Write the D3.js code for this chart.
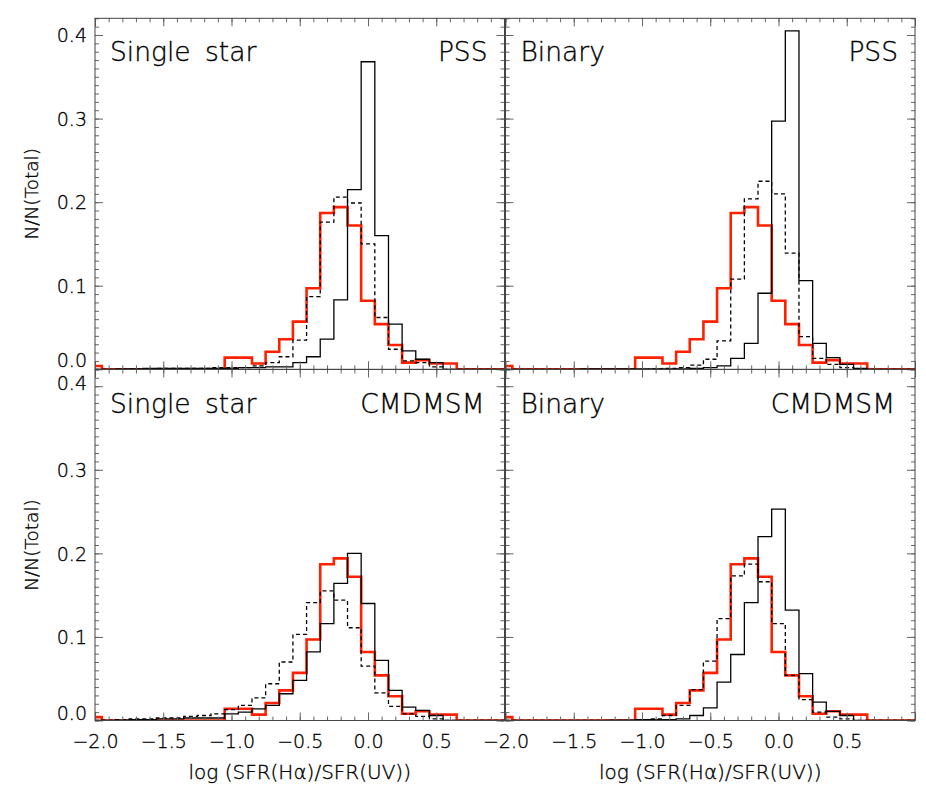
<!DOCTYPE html>
<html>
<head>
<meta charset="utf-8">
<script src="https://cdn.jsdelivr.net/npm/d3@7"></script>
<style>
  html, body { margin: 0; padding: 0; background: #fff; }
  svg { display: block; }
  text { font-family: "DejaVu Sans", "Noto Sans", sans-serif; font-weight: 200; fill: #000; stroke: #000; stroke-width: 0.35px; }
</style>
</head>
<body>
<svg id="chart" width="926" height="797"></svg>
<script>
// ---------- data ----------
const binCenters = [-2.0,-1.9,-1.8,-1.7,-1.6,-1.5,-1.4,-1.3,-1.2,-1.1,
                    -1.0,-0.9,-0.8,-0.7,-0.6,-0.5,-0.4,-0.3,-0.2,-0.1,
                     0.0, 0.1, 0.2, 0.3, 0.4, 0.5, 0.6, 0.7, 0.8, 0.9, 1.0];

// observed distribution (red), same in all panels
const observed = [0.004,0,0,0,0,0,0,0,0,0,
                  0.014,0.014,0.007,0.021,0.036,0.057,0.097,0.187,0.194,0.172,
                  0.082,0.054,0.029,0.008,0.011,0.007,0.007,0,0,0,0];

const singlePSSSolid = [0,0,0.0005,0.0005,0.001,0.001,0.001,0.001,0.001,0.001,
                        0.001,0.002,0.002,0.003,0.003,0.008,0.015,0.036,0.083,0.215,
                        0.368,0.160,0.054,0.022,0.012,0.008,0,0,0,0,0];
const singlePSSDashed = [0,0,0,0.0005,0.0005,0.001,0.001,0.001,0.001,0.002,
                         0.002,0.002,0.004,0.008,0.015,0.035,0.087,0.176,0.206,0.199,
                         0.150,0.062,0.024,0.010,0.008,0.003,0,0,0,0,0];
const binaryPSSSolid = [0,0,0,0,0,0,0.0005,0.0005,0.0005,0.0005,
                        0.0005,0.0005,0.0005,0.0005,0.001,0.002,0.004,0.013,0.031,0.091,
                        0.297,0.405,0.106,0.031,0.014,0.006,0.001,0,0,0,0];
const binaryPSSDashed = [0,0,0,0,0,0,0,0,0,0,
                         0,0.0005,0.001,0.002,0.005,0.012,0.034,0.108,0.204,0.225,
                         0.210,0.139,0.039,0.013,0.006,0.002,0,0,0,0,0];
const singleCMDSolid = [0,0,0.0005,0.001,0.001,0.002,0.002,0.003,0.003,0.003,
                        0.008,0.010,0.014,0.018,0.032,0.048,0.082,0.116,0.164,0.200,
                        0.140,0.072,0.036,0.016,0.012,0.006,0,0,0,0,0];
const singleCMDDashed = [0,0.0005,0.001,0.002,0.002,0.003,0.003,0.005,0.006,0.008,
                         0.013,0.018,0.027,0.044,0.070,0.103,0.141,0.155,0.144,0.111,
                         0.065,0.033,0.017,0.008,0.005,0.002,0,0,0,0,0];
const binaryCMDSolid = [0,0,0,0,0,0,0,0,0.0005,0.0005,
                        0.001,0.001,0.001,0.002,0.006,0.015,0.046,0.079,0.141,0.220,
                        0.253,0.132,0.056,0.022,0.011,0.006,0,0,0,0,0];
const binaryCMDDashed = [0,0,0,0,0,0,0,0,0,0,
                         0.001,0.002,0.006,0.018,0.037,0.071,0.122,0.173,0.187,0.166,
                         0.116,0.054,0.025,0.010,0.004,0.002,0,0,0,0,0];

const panelLeftLabels  = ["Single star", "Binary", "Single star", "Binary"];
const panelRightLabels = ["PSS", "PSS", "CMDMSM", "CMDMSM"];
const xMajorTicks = [-2.0,-1.5,-1.0,-0.5,0.0,0.5,1.0];
const xLabelTicks = [-2.0,-1.5,-1.0,-0.5,0.0,0.5];
const yMajorTicks = [0.0,0.1,0.2,0.3,0.4];
const xTitle = "log (SFR(H\u03b1)/SFR(UV))";
const yTitle = "N/N(Total)";

// ---------- layout ----------
const svg = d3.select("#chart");
const colX = [95, 505.5];
const colW = 409.5;
const rowY = [18.3, 369.5];
const rowH = 351;
const xDomain = [-2.0, 1.0];
const yDomain = [0, 0.42];
const frameColor = "#444";
const tickColor = "#666";

const panels = [
  {col:0,row:0, solid:singlePSSSolid, dashed:singlePSSDashed},
  {col:1,row:0, solid:binaryPSSSolid, dashed:binaryPSSDashed},
  {col:0,row:1, solid:singleCMDSolid, dashed:singleCMDDashed},
  {col:1,row:1, solid:binaryCMDSolid, dashed:binaryCMDDashed}
];

const xMinor = d3.range(-20, 11).map(i => i/10);
const yMinor = d3.range(0, 43).map(i => i/100);
const fmt = d3.format(".1f");

panels.forEach((p, idx) => {
  const x0 = colX[p.col], y0 = rowY[p.row];
  const x = d3.scaleLinear().domain(xDomain).range([x0, x0 + colW]);
  const y = d3.scaleLinear().domain(yDomain).range([y0 + rowH, y0]);
  const g = svg.append("g");

  const clipId = "clip" + idx;
  svg.append("clipPath").attr("id", clipId).append("rect")
    .attr("x", x0).attr("y", y0 - 2).attr("width", colW).attr("height", rowH + 2);

  const line = d3.line()
    .x((d, i) => x(binCenters[i]))
    .y(d => y(d))
    .curve(d3.curveStep);

  const lines = g.append("g").attr("clip-path", `url(#${clipId})`);
  lines.append("path").datum(observed).attr("d", line)
    .attr("fill", "none").attr("stroke", "#ff2000").attr("stroke-width", 2.6);
  lines.append("path").datum(p.dashed).attr("d", line)
    .attr("fill", "none").attr("stroke", "#000").attr("stroke-width", 1.3)
    .attr("stroke-dasharray", "4,3");
  lines.append("path").datum(p.solid).attr("d", line)
    .attr("fill", "none").attr("stroke", "#000").attr("stroke-width", 1.3);

  const axes = g.append("g");
  const addAxis = (axisFn, scale, vals, size, transform, labels) => {
    const a = axisFn(scale).tickValues(vals).tickSize(size).tickSizeOuter(0);
    if (labels) a.tickFormat(d => labels.includes(d) ? fmt(d) : "").tickPadding(8);
    else a.tickFormat("");
    const ag = axes.append("g").attr("transform", transform).call(a);
    ag.select(".domain").remove();
    ag.selectAll(".tick line").attr("stroke", tickColor);
    return ag;
  };
  const bottomT = `translate(0,${y0 + rowH})`;
  const topT = `translate(0,${y0})`;
  const leftT = `translate(${x0},0)`;
  const rightT = `translate(${x0 + colW},0)`;
  addAxis(d3.axisBottom, x, xMinor, -4, bottomT);
  addAxis(d3.axisTop, x, xMinor, -4, topT);
  addAxis(d3.axisLeft, y, yMinor, -4, leftT);
  addAxis(d3.axisRight, y, yMinor, -4, rightT);
  const xb = addAxis(d3.axisBottom, x, xMajorTicks, -8, bottomT, p.row === 1 ? xLabelTicks : null);
  addAxis(d3.axisTop, x, xMajorTicks, -8, topT);
  const yl = addAxis(d3.axisLeft, y, yMajorTicks, -8, leftT, p.col === 0 ? yMajorTicks : null);
  addAxis(d3.axisRight, y, yMajorTicks, -8, rightT);

  xb.selectAll(".tick text").style("font-size", "19px").attr("fill", "#000")
    .attr("dy", "1.0em");
  yl.selectAll(".tick text").style("font-size", "19px").attr("fill", "#000")
    .attr("dy", d => {
      if (d === 0) return p.row === 0 ? "-0.14em" : "-0.04em";
      if (d === 0.4 && p.row === 1) return "0.16em";
      return "0.35em";
    });

  // frame
  g.append("rect").attr("x", x0).attr("y", y0).attr("width", colW).attr("height", rowH)
    .attr("fill", "none").attr("stroke", frameColor).attr("stroke-width", 1);

  // panel labels
  g.append("text").attr("x", x0 + 15).attr("y", y0 + 43)
    .style("font-size", "26.5px").style("word-spacing", "6px")
    .text(panelLeftLabels[idx]);
  g.append("text").attr("x", x0 + colW - (idx >= 2 ? 20 : 17)).attr("y", y0 + 43)
    .attr("text-anchor", "end").style("font-size", "26.5px")
    .text(panelRightLabels[idx]);

  // axis titles
  if (p.row === 1) {
    g.append("text").attr("x", x0 + colW / 2).attr("y", 779)
      .attr("text-anchor", "middle").style("font-size", "20px")
      .text(xTitle);
  }
  if (p.col === 0) {
    g.append("text")
      .attr("transform", `translate(38,${y0 + rowH / 2}) rotate(-90)`)
      .attr("text-anchor", "middle").style("font-size", "18.5px")
      .text(yTitle);
  }
});
</script>
</body>
</html>
